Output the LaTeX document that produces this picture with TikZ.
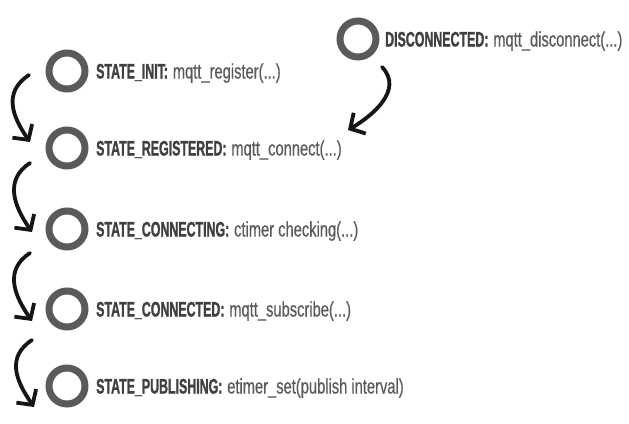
\documentclass[tikz,border=0pt]{standalone}
\usepackage{fontspec}
\setmainfont{Liberation Sans}
\newfontfamily\boldlbl[UprightFont={* Bold}, FakeStretch=0.59, FakeBold=1.2]{Liberation Sans}
\newfontfamily\reglbl[FakeStretch=0.70, FakeBold=0.4]{Liberation Sans}
\usetikzlibrary{arrows.meta,calc}
\definecolor{ringgray}{HTML}{5A5A5A}
\definecolor{boldgray}{HTML}{404040}
\definecolor{reggray}{HTML}{5A5A5A}
\definecolor{inkblack}{HTML}{151515}
\tikzset{
  ring/.style={circle, draw=ringgray, line width=7pt, minimum size=36pt, inner sep=0pt},
  lbl/.style={anchor=base west, inner sep=0pt, font=\fontsize{21}{23}\selectfont},
  hand/.style={draw=inkblack, line width=3.8pt, line cap=round,
    -{Straight Barb[length=11pt,width=24pt]}},
}
\newcommand{\stname}[1]{{\boldlbl\color{boldgray}#1}}
\newcommand{\stcall}[1]{{\reglbl\color{reggray}#1}}
\begin{document}
\begin{tikzpicture}[x=1pt,y=-1pt]
\useasboundingbox (0,0) rectangle (629,423);
% rings
\node[ring] (d)  at (358,39)  {};
\node[ring] (c1) at (67,71)   {};
\node[ring] (c2) at (67,148)  {};
\node[ring] (c3) at (67,229)  {};
\node[ring] (c4) at (67,309)  {};
\node[ring] (c5) at (67,386)  {};
% labels
\node[lbl] (ld) at (385,46.5) {\stname{DISCONNECTED:}\hspace{-1pt} \stcall{mqtt\_disconnect(...)}};
\node[lbl] (l1) at (96,78.5)  {\stname{STATE\_INIT:}\hspace{-1pt} \stcall{mqtt\_register(...)}};
\node[lbl] (l2) at (96,155.5) {\stname{STATE\_REGISTERED:}\hspace{-1pt} \stcall{mqtt\_connect(...)}};
\node[lbl] (l3) at (96,236.5) {\stname{STATE\_CONNECTING:}\hspace{-1pt} \stcall{ctimer checking(...)}};
\node[lbl] (l4) at (96,316.5) {\stname{STATE\_CONNECTED:}\hspace{-1pt} \stcall{mqtt\_subscribe(...)}};
\node[lbl] (l5) at (96,393.5) {\stname{STATE\_PUBLISHING:}\hspace{-1pt} \stcall{etimer\_set(publish interval)}};
% arrow end points
\coordinate (a1s) at ($(c1)+(-38,4)$);
\coordinate (a1t) at ($(c2)+(-37,-6)$);
\coordinate (a2s) at ($(c2)+(-37,15)$);
\coordinate (a2t) at ($(c3)+(-35,3)$);
\coordinate (a3s) at ($(c3)+(-37,24)$);
\coordinate (a3t) at ($(c4)+(-35,12)$);
\coordinate (a4s) at ($(c4)+(-35,31)$);
\coordinate (a4t) at ($(c5)+(-33,21)$);
\coordinate (ads) at ($(d)+(24,28)$);
\coordinate (adt) at ($(c2)+(281,-18)$);
% arrows
\draw[hand] (a1s) .. controls +(-26,17) and +(-18,-26) .. (a1t);
\draw[hand] (a2s) .. controls +(-26,17) and +(-18,-26) .. (a2t);
\draw[hand] (a3s) .. controls +(-26,17) and +(-18,-26) .. (a3t);
\draw[hand] (a4s) .. controls +(-26,17) and +(-18,-26) .. (a4t);
\draw[hand] (ads) .. controls +(22,23) and +(24,-14) .. (adt);
\end{tikzpicture}
\end{document}
